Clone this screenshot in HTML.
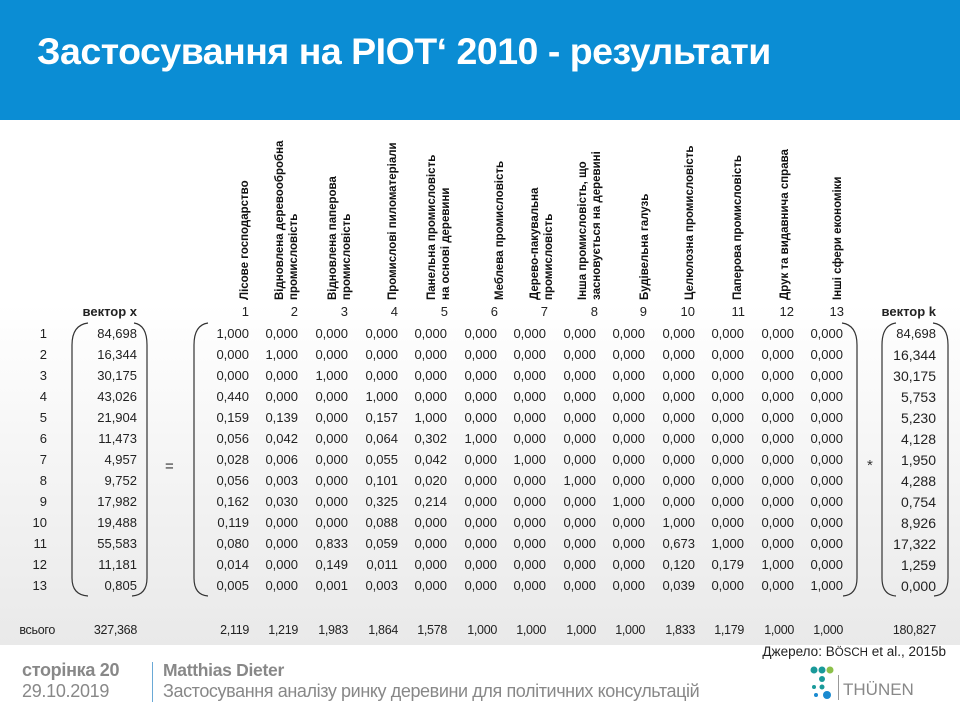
<!DOCTYPE html>
<html><head><meta charset="utf-8"><style>
body{margin:0;width:960px;height:720px;overflow:hidden;font-family:"Liberation Sans","DejaVu Sans",sans-serif;position:relative;background:#fff}
#hdr{position:absolute;left:0;top:0;width:960px;height:120px;background:#0b8dd4}
#hdr h1{position:absolute;left:37px;top:30px;margin:0;color:#fff;font-size:37.5px;font-weight:bold;letter-spacing:-0.5px}
#body{position:absolute;left:0;top:120px;width:960px;height:525px;background:linear-gradient(#fff 0%,#fff 35%,#e9e9e9 100%)}
.h{position:absolute;top:300px;transform-origin:0 0;transform:rotate(-90deg);font-size:11.5px;font-weight:bold;white-space:nowrap;color:#111;line-height:14px}
.r{position:absolute;left:0;width:960px;height:20px;font-size:13px;color:#222}
.r span{position:absolute;width:60px;text-align:right}
#foot{position:absolute;top:645px;left:0;width:960px;height:75px;background:#fff}
</style></head><body>
<div id="hdr"><h1>Застосування на PIOT‘ 2010 - результати</h1></div>
<div id="body"></div>

<div class="h" style="left:238px">Лісове господарство</div>
<div class="h" style="left:273px">Відновлена деревообробна<br>промисловість</div>
<div class="h" style="left:326px">Відновлена паперова<br>промисловість</div>
<div class="h" style="left:386px">Промислові пиломатеріали</div>
<div class="h" style="left:425px">Панельна промисловість<br>на основі деревини</div>
<div class="h" style="left:493px">Меблева промисловість</div>
<div class="h" style="left:528px">Дерево-пакувальна<br>промисловість</div>
<div class="h" style="left:576px">Інша промисловість, що<br>засновується на деревині</div>
<div class="h" style="left:638px">Будівельна галузь</div>
<div class="h" style="left:683px">Целюлозна промисловість</div>
<div class="h" style="left:731px">Паперова промисловість</div>
<div class="h" style="left:778px">Друк та видавнича справа</div>
<div class="h" style="left:831px">Інші сфери економіки</div>

<div class="r" style="top:304px">
<span style="left:77px;width:60px;font-weight:bold">вектор x</span>
<span style="left:189px">1</span><span style="left:238px">2</span><span style="left:288px">3</span><span style="left:338px">4</span><span style="left:388px">5</span><span style="left:438px">6</span><span style="left:488px">7</span><span style="left:538px">8</span><span style="left:587px">9</span><span style="left:635px">10</span><span style="left:685px">11</span><span style="left:734px">12</span><span style="left:784px">13</span>
<span style="left:866px;width:70px;font-weight:bold">вектор k</span></div>

<svg style="position:absolute;left:0;top:0" width="960" height="720">
<g fill="none" stroke="#333" stroke-width="1.2">
<path d="M88,323 Q72,325 72,345 L72,578 Q72,595 88,596"/>
<path d="M134,323 Q147,325 147,345 L147,578 Q147,595 132,596"/>
<path d="M208,323 Q194,325 194,345 L194,578 Q194,595 208,596"/>
<path d="M842,323 Q857,325 857,345 L857,578 Q857,595 843,596"/>
<path d="M896,323 Q882,325 882,345 L882,578 Q882,595 896,596"/>
<path d="M933,323 Q948,325 948,345 L948,578 Q948,595 934,596"/>
</g>
<text x="165" y="471" font-size="15" fill="#333" font-family="Liberation Sans">=</text>
<text x="867" y="470" font-size="15" fill="#333" font-family="Liberation Sans">*</text>
</svg>

<div class="r" style="top:326px"><span style="left:0;width:47px">1</span><span style="left:77px">84,698</span><span style="left:189px">1,000</span><span style="left:238px">0,000</span><span style="left:288px">0,000</span><span style="left:338px">0,000</span><span style="left:387px">0,000</span><span style="left:437px">0,000</span><span style="left:486px">0,000</span><span style="left:536px">0,000</span><span style="left:585px">0,000</span><span style="left:635px">0,000</span><span style="left:684px">0,000</span><span style="left:734px">0,000</span><span style="left:783px">0,000</span><span style="left:876px">84,698</span></div>
<div class="r" style="top:347px"><span style="left:0;width:47px">2</span><span style="left:77px">16,344</span><span style="left:189px">0,000</span><span style="left:238px">1,000</span><span style="left:288px">0,000</span><span style="left:338px">0,000</span><span style="left:387px">0,000</span><span style="left:437px">0,000</span><span style="left:486px">0,000</span><span style="left:536px">0,000</span><span style="left:585px">0,000</span><span style="left:635px">0,000</span><span style="left:684px">0,000</span><span style="left:734px">0,000</span><span style="left:783px">0,000</span><span style="left:876px;font-size:14px">16,344</span></div>
<div class="r" style="top:368px"><span style="left:0;width:47px">3</span><span style="left:77px">30,175</span><span style="left:189px">0,000</span><span style="left:238px">0,000</span><span style="left:288px">1,000</span><span style="left:338px">0,000</span><span style="left:387px">0,000</span><span style="left:437px">0,000</span><span style="left:486px">0,000</span><span style="left:536px">0,000</span><span style="left:585px">0,000</span><span style="left:635px">0,000</span><span style="left:684px">0,000</span><span style="left:734px">0,000</span><span style="left:783px">0,000</span><span style="left:876px;font-size:14px">30,175</span></div>
<div class="r" style="top:389px"><span style="left:0;width:47px">4</span><span style="left:77px">43,026</span><span style="left:189px">0,440</span><span style="left:238px">0,000</span><span style="left:288px">0,000</span><span style="left:338px">1,000</span><span style="left:387px">0,000</span><span style="left:437px">0,000</span><span style="left:486px">0,000</span><span style="left:536px">0,000</span><span style="left:585px">0,000</span><span style="left:635px">0,000</span><span style="left:684px">0,000</span><span style="left:734px">0,000</span><span style="left:783px">0,000</span><span style="left:876px;font-size:14px">5,753</span></div>
<div class="r" style="top:410px"><span style="left:0;width:47px">5</span><span style="left:77px">21,904</span><span style="left:189px">0,159</span><span style="left:238px">0,139</span><span style="left:288px">0,000</span><span style="left:338px">0,157</span><span style="left:387px">1,000</span><span style="left:437px">0,000</span><span style="left:486px">0,000</span><span style="left:536px">0,000</span><span style="left:585px">0,000</span><span style="left:635px">0,000</span><span style="left:684px">0,000</span><span style="left:734px">0,000</span><span style="left:783px">0,000</span><span style="left:876px;font-size:14px">5,230</span></div>
<div class="r" style="top:431px"><span style="left:0;width:47px">6</span><span style="left:77px">11,473</span><span style="left:189px">0,056</span><span style="left:238px">0,042</span><span style="left:288px">0,000</span><span style="left:338px">0,064</span><span style="left:387px">0,302</span><span style="left:437px">1,000</span><span style="left:486px">0,000</span><span style="left:536px">0,000</span><span style="left:585px">0,000</span><span style="left:635px">0,000</span><span style="left:684px">0,000</span><span style="left:734px">0,000</span><span style="left:783px">0,000</span><span style="left:876px;font-size:14px">4,128</span></div>
<div class="r" style="top:452px"><span style="left:0;width:47px">7</span><span style="left:77px">4,957</span><span style="left:189px">0,028</span><span style="left:238px">0,006</span><span style="left:288px">0,000</span><span style="left:338px">0,055</span><span style="left:387px">0,042</span><span style="left:437px">0,000</span><span style="left:486px">1,000</span><span style="left:536px">0,000</span><span style="left:585px">0,000</span><span style="left:635px">0,000</span><span style="left:684px">0,000</span><span style="left:734px">0,000</span><span style="left:783px">0,000</span><span style="left:876px;font-size:14px">1,950</span></div>
<div class="r" style="top:473px"><span style="left:0;width:47px">8</span><span style="left:77px">9,752</span><span style="left:189px">0,056</span><span style="left:238px">0,003</span><span style="left:288px">0,000</span><span style="left:338px">0,101</span><span style="left:387px">0,020</span><span style="left:437px">0,000</span><span style="left:486px">0,000</span><span style="left:536px">1,000</span><span style="left:585px">0,000</span><span style="left:635px">0,000</span><span style="left:684px">0,000</span><span style="left:734px">0,000</span><span style="left:783px">0,000</span><span style="left:876px;font-size:14px">4,288</span></div>
<div class="r" style="top:494px"><span style="left:0;width:47px">9</span><span style="left:77px">17,982</span><span style="left:189px">0,162</span><span style="left:238px">0,030</span><span style="left:288px">0,000</span><span style="left:338px">0,325</span><span style="left:387px">0,214</span><span style="left:437px">0,000</span><span style="left:486px">0,000</span><span style="left:536px">0,000</span><span style="left:585px">1,000</span><span style="left:635px">0,000</span><span style="left:684px">0,000</span><span style="left:734px">0,000</span><span style="left:783px">0,000</span><span style="left:876px;font-size:14px">0,754</span></div>
<div class="r" style="top:515px"><span style="left:0;width:47px">10</span><span style="left:77px">19,488</span><span style="left:189px">0,119</span><span style="left:238px">0,000</span><span style="left:288px">0,000</span><span style="left:338px">0,088</span><span style="left:387px">0,000</span><span style="left:437px">0,000</span><span style="left:486px">0,000</span><span style="left:536px">0,000</span><span style="left:585px">0,000</span><span style="left:635px">1,000</span><span style="left:684px">0,000</span><span style="left:734px">0,000</span><span style="left:783px">0,000</span><span style="left:876px;font-size:14px">8,926</span></div>
<div class="r" style="top:536px"><span style="left:0;width:47px">11</span><span style="left:77px">55,583</span><span style="left:189px">0,080</span><span style="left:238px">0,000</span><span style="left:288px">0,833</span><span style="left:338px">0,059</span><span style="left:387px">0,000</span><span style="left:437px">0,000</span><span style="left:486px">0,000</span><span style="left:536px">0,000</span><span style="left:585px">0,000</span><span style="left:635px">0,673</span><span style="left:684px">1,000</span><span style="left:734px">0,000</span><span style="left:783px">0,000</span><span style="left:876px;font-size:14px">17,322</span></div>
<div class="r" style="top:557px"><span style="left:0;width:47px">12</span><span style="left:77px">11,181</span><span style="left:189px">0,014</span><span style="left:238px">0,000</span><span style="left:288px">0,149</span><span style="left:338px">0,011</span><span style="left:387px">0,000</span><span style="left:437px">0,000</span><span style="left:486px">0,000</span><span style="left:536px">0,000</span><span style="left:585px">0,000</span><span style="left:635px">0,120</span><span style="left:684px">0,179</span><span style="left:734px">1,000</span><span style="left:783px">0,000</span><span style="left:876px;font-size:14px">1,259</span></div>
<div class="r" style="top:578px"><span style="left:0;width:47px">13</span><span style="left:77px">0,805</span><span style="left:189px">0,005</span><span style="left:238px">0,000</span><span style="left:288px">0,001</span><span style="left:338px">0,003</span><span style="left:387px">0,000</span><span style="left:437px">0,000</span><span style="left:486px">0,000</span><span style="left:536px">0,000</span><span style="left:585px">0,000</span><span style="left:635px">0,039</span><span style="left:684px">0,000</span><span style="left:734px">0,000</span><span style="left:783px">1,000</span><span style="left:876px;font-size:14px">0,000</span></div>
<div class="r" style="top:623px;font-size:12.5px;letter-spacing:-0.3px"><span style="left:0;width:55px">всього</span><span style="left:77px">327,368</span><span style="left:189px">2,119</span><span style="left:238px">1,219</span><span style="left:288px">1,983</span><span style="left:338px">1,864</span><span style="left:387px">1,578</span><span style="left:437px">1,000</span><span style="left:486px">1,000</span><span style="left:536px">1,000</span><span style="left:585px">1,000</span><span style="left:635px">1,833</span><span style="left:684px">1,179</span><span style="left:734px">1,000</span><span style="left:783px">1,000</span><span style="left:866px;width:70px">180,827</span></div>

<div id="foot">
<div style="position:absolute;right:14px;top:-1px;font-size:13.5px;color:#222">Джерело: B<span style="font-size:11.5px">ÖSCH</span> et al., 2015b</div>
<div style="position:absolute;left:22px;top:15px;font-size:18px;font-weight:bold;color:#888;letter-spacing:-0.3px">сторінка 20</div>
<div style="position:absolute;left:22px;top:36px;font-size:18px;color:#888;letter-spacing:-0.3px">29.10.2019</div>
<div style="position:absolute;left:152px;top:17px;width:1px;height:40px;background:#6aa9d6"></div>
<div style="position:absolute;left:163px;top:15px;font-size:17.5px;font-weight:bold;color:#888;letter-spacing:-0.3px">Matthias Dieter</div>
<div style="position:absolute;left:163px;top:36px;font-size:18px;color:#888;letter-spacing:-0.4px">Застосування аналізу ринку деревини для політичних консультацій</div>
<svg style="position:absolute;left:808px;top:20px" width="120" height="40">
<circle cx="6" cy="5" r="3.5" fill="#1a9a9a"/><circle cx="14" cy="5" r="3.5" fill="#1a9a9a"/><circle cx="22" cy="5" r="3.5" fill="#8cc04a"/>
<circle cx="14" cy="14" r="3" fill="#1a9a9a"/><circle cx="6" cy="22" r="2" fill="#1a9a9a"/><circle cx="14" cy="22" r="2.5" fill="#1a9a9a"/>
<circle cx="8" cy="30" r="2" fill="#1a8ad0"/><circle cx="19" cy="30" r="4" fill="#1a8ad0"/>
<rect x="30" y="10" width="1" height="25" fill="#999"/>
<text x="35" y="30" font-size="17" fill="#888" font-family="Liberation Sans">THÜNEN</text>
</svg>
</div>
</body></html>
